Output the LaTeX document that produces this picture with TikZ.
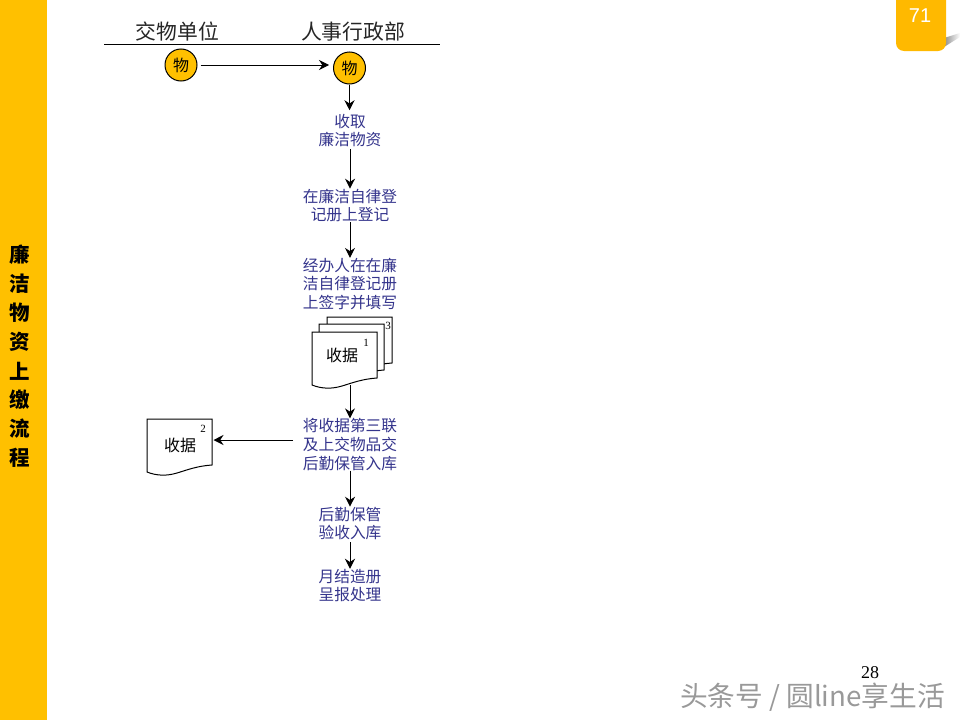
\documentclass[tikz,border=0pt]{standalone}
\usepackage{fontspec}
\setmainfont{Noto Sans CJK SC}
\newfontfamily\latinsans{Liberation Sans}
\newfontfamily\latinserif{Liberation Serif}
\definecolor{barYellow}{HTML}{FFC000}
\definecolor{tabYellow}{HTML}{FFB900}
\definecolor{stepBlue}{HTML}{34348C}
\usetikzlibrary{arrows.meta}
\tikzset{
  px/.style={x=1pt,y=-1pt},
  steptext/.style={inner sep=0pt,align=center,text=stepBlue,font=\fontsize{15.7}{18.6}\selectfont},
  headtext/.style={inner sep=0pt,text=black!85,font=\fontsize{20.8}{24}\selectfont},
  sidetext/.style={inner sep=0pt,text=black,font=\fontsize{20.5}{24}\selectfont\bfseries},
  doctext/.style={inner sep=0pt,text=black,font=\fontsize{16}{18}\selectfont},
  docnum/.style={inner sep=0pt,text=black,font=\fontsize{11}{12}\latinserif},
  docshape/.style={draw=black,fill=white,line width=1pt},
  token/.style={circle,draw=black,fill=barYellow,line width=1pt,minimum size=32pt,inner sep=0pt,font=\fontsize{16}{17}\selectfont},
  flow/.style={draw=black,line width=1pt,-{Stealth[length=10pt,width=10pt]}},
}
\newcommand{\docpath}[2]{%
  \path[docshape,shift={(#1,#2)}] (0,0) -- (65,0) -- (65,46)
    .. controls (50,47) and (40,51) .. (30,54)
    .. controls (20,57) and (10,57) .. (0,53) -- cycle;}
\begin{document}
\begin{tikzpicture}[px]
\useasboundingbox (0,0) rectangle (960,720);
\fill[white] (0,0) rectangle (960,720);
% side bar
\fill[barYellow] (0,0) rectangle (47,720);
\node[sidetext] (s1) at (20,255) {廉};
\node[sidetext] (s2) at (20,284) {洁};
\node[sidetext] (s3) at (20,313) {物};
\node[sidetext] (s4) at (20,342) {资};
\node[sidetext] (s5) at (20,371) {上};
\node[sidetext] (s6) at (20,400) {缴};
\node[sidetext] (s7) at (20,429) {流};
\node[sidetext] (s8) at (20,458) {程};
% page tab
\shade[left color=black!45,right color=white] (944,38) -- (960,33) -- (960,37) -- (944,47) -- cycle;
\fill[tabYellow,rounded corners=8pt] (896,-12) rectangle (946,51);
\node[inner sep=0pt,text=white,font=\fontsize{20}{22}\latinsans] (tab) at (920,16) {71};
% header
\node[headtext] (h1) at (177.5,32) {交物单位};
\node[headtext] (h2) at (353,32) {人事行政部};
\coordinate (hl) at (104,44);
\coordinate (hr) at (440,44);
\draw[black,line width=1pt] (hl) -- (hr);
% tokens
\node[token] (t1) at (181,65) {物};
\node[token] (t2) at (349.5,68) {物};
% steps
\node[steptext] (a) at (350,130.5) {收取\\廉洁物资};
\node[steptext] (b) at (350,205.5) {在廉洁自律登\\记册上登记};
\node[steptext] (c) at (350,284) {经办人在在廉\\洁自律登记册\\上签字并填写};
\node[steptext] (d) at (350,444.5) {将收据第三联\\及上交物品交\\后勤保管入库};
\node[steptext] (e) at (350,523.5) {后勤保管\\验收入库};
\node[steptext] (f) at (350,585.5) {月结造册\\呈报处理};
% documents
\docpath{327}{317}
\docpath{319}{324}
\docpath{312}{332}
\docpath{147}{419}
\node[doctext] (k1) at (342,355) {收据};
\node[doctext] (k2) at (180,445) {收据};
\node[docnum] (n3) at (388,326) {3};
\node[docnum] (n1) at (366,343) {1};
\node[docnum] (n2) at (203,429) {2};
\coordinate (dbot) at (350,385);
\coordinate (dsingle) at (213.5,440);
\coordinate (dfrom) at (293,440);
% footer
\node[inner sep=0pt,text=black,font=\fontsize{18}{20}\latinserif] (pg) at (870,673) {28};
\node[inner sep=0pt,text=black!40,font=\fontsize{27.7}{30}\selectfont] (wm) at (812.5,697) {头条号 / 圆line享生活};
% connectors
\draw[flow,shorten <=3pt,shorten >=4pt] (t1.east) -- (t2.west |- t1.east);
\draw[flow,shorten >=3.5pt] (t2.south) -- (t2.south |- a.north);
\draw[flow,shorten <=2pt] (a.south) -- (b.north);
\draw[flow] (b.south) -- (c.north);
\draw[flow] (dbot) -- (d.north);
\draw[flow] (dfrom) -- (dsingle);
\draw[flow] (d.south) -- (e.north);
\draw[flow,shorten <=2pt] (e.south) -- (f.north);
\end{tikzpicture}
\end{document}
